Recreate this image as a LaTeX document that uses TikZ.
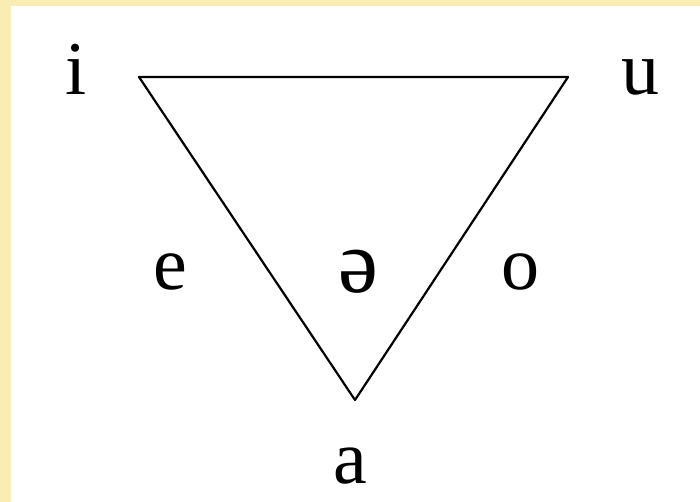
\documentclass[tikz,border=0pt]{standalone}
\usepackage{fontspec}
\setmainfont{Liberation Serif}
\definecolor{frame}{HTML}{FAEDB4}
\begin{document}
\begin{tikzpicture}[x=1pt,y=-1pt,
  vowel/.style={anchor=base,inner sep=0pt,font=\fontsize{76}{80}\selectfont},
  edge/.style={line width=2.2pt,line join=round}]
\fill[frame] (0,0) rectangle (700,502);
\fill[white] (11,6) rectangle (700,502);
\useasboundingbox (0,0) rectangle (700,502);
\coordinate (vi) at (139,77);
\coordinate (vu) at (568,77);
\coordinate (va) at (355,400);
\draw[edge] (vi) -- (vu) -- (va) -- cycle;
\node[vowel] (ti) at (76,95) {i};
\node[vowel] (tu) at (640,95) {u};
\node[vowel] (te) at (170,289) {e};
\node[vowel,font=\fontsize{90}{94}\selectfont] (tschwa) at (358,292) {ə};
\node[vowel] (to) at (520,289) {o};
\node[vowel] (ta) at (350,483) {a};
\end{tikzpicture}
\end{document}
